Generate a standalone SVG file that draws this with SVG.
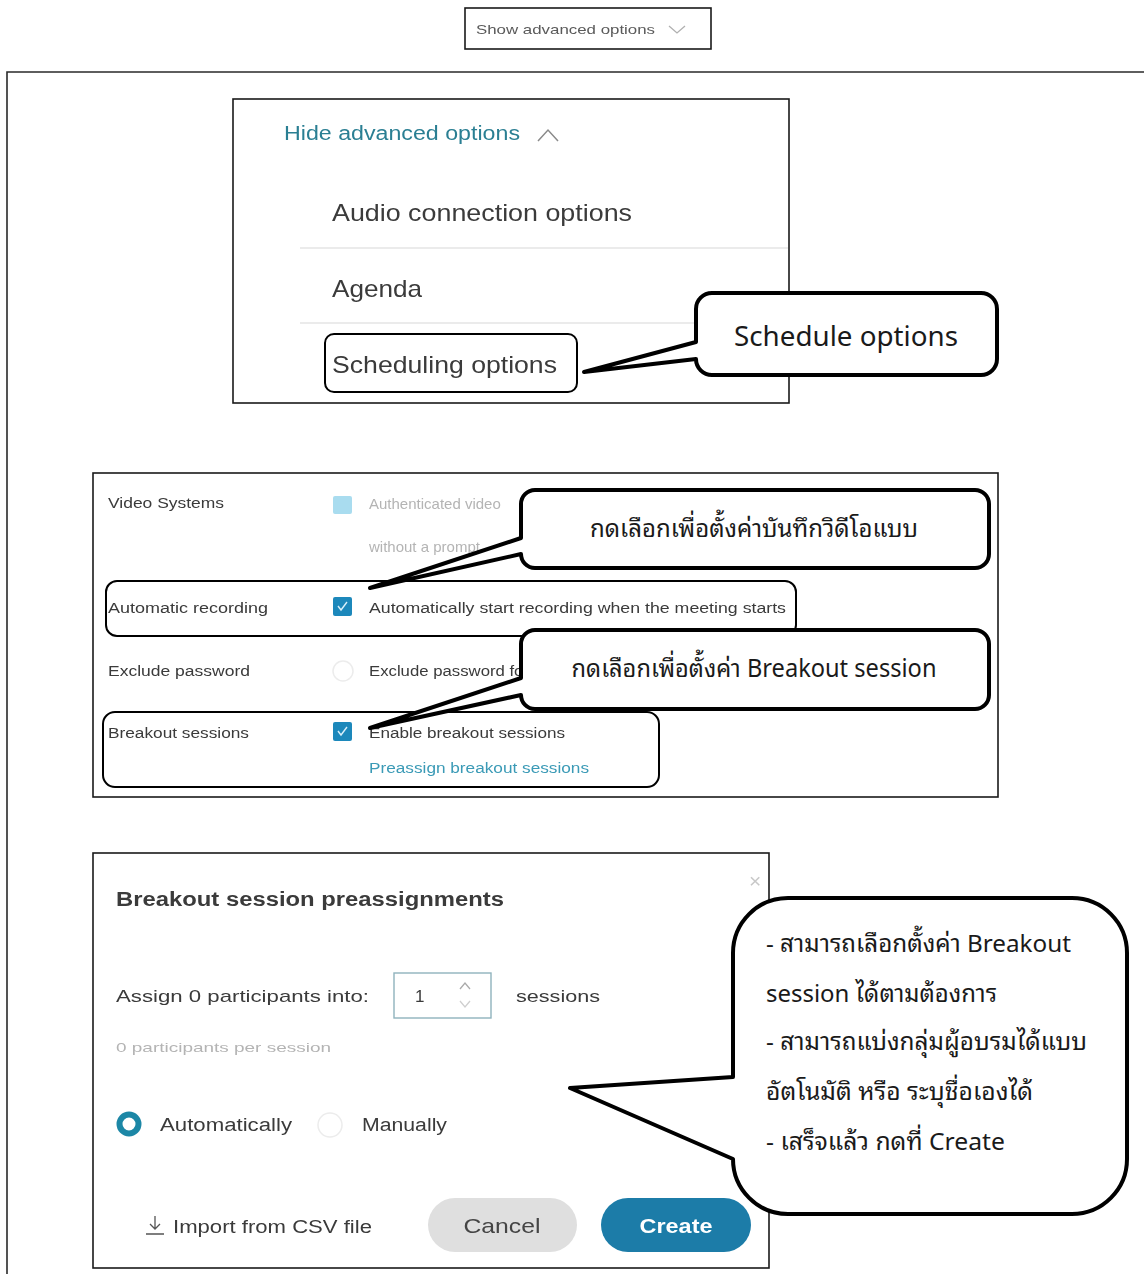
<svg xmlns="http://www.w3.org/2000/svg" width="1144" height="1274" viewBox="0 0 1144 1274">
  <defs>
    <style>
      .ui { font-family: "Liberation Sans", Arial, "DejaVu Sans", sans-serif; fill: #3a3a3a; }
      .faint { fill: #b4b4b4; }
      .teal { fill: #2b7f93; }
      .frame { fill: #ffffff; stroke: #1a1a1a; stroke-width: 1.6; }
      .hl { fill: none; stroke: #000000; stroke-width: 2; }
      .callout { fill: #ffffff; stroke: #000000; stroke-width: 4; stroke-linejoin: round; }
      .th { font-family: "Leelawadee UI", "Noto Sans Thai Looped", "Loma", "Garuda", "Tahoma", "Noto Sans Thai", "Noto Sans", "DejaVu Sans", sans-serif; fill: #1a1a1a; }
      .sep { stroke: #e4e4e4; stroke-width: 1.5; }
      .chk { fill: #1f88bb; }
    </style>
    <filter id="soft" x="-5%" y="-20%" width="110%" height="140%">
      <feGaussianBlur stdDeviation="0.55"/>
    </filter>
  </defs>

  <rect width="1144" height="1274" fill="#ffffff"/>

  <!-- page border (top and left only) -->
  <path d="M7 1274 V72 H1144" fill="none" stroke="#2a2a2a" stroke-width="1.6"/>

  <!-- "Show advanced options" button -->
  <g id="show-advanced">
    <rect x="465" y="8" width="246" height="41" class="frame"/>
    <g filter="url(#soft)">
      <text x="476" y="34" class="ui" font-size="13" textLength="179" lengthAdjust="spacingAndGlyphs" style="fill:#5a5a5a">Show advanced options</text>
      <polyline points="669,26 677,33 685,26" fill="none" stroke="#b0b0b0" stroke-width="1.3"/>
    </g>
  </g>

  <!-- advanced options menu -->
  <g id="options-menu">
    <rect x="233" y="99" width="556" height="304" class="frame"/>
    <g filter="url(#soft)">
      <text x="284" y="140" class="ui teal" font-size="20" textLength="236" lengthAdjust="spacingAndGlyphs">Hide advanced options</text>
      <polyline points="538,141 548,130 558,141" fill="none" stroke="#8a8a8a" stroke-width="1.5"/>
      <text x="332" y="221" class="ui" font-size="24" textLength="300" lengthAdjust="spacingAndGlyphs">Audio connection options</text>
      <line x1="300" y1="248" x2="788" y2="248" class="sep"/>
      <text x="332" y="297" class="ui" font-size="24" textLength="90" lengthAdjust="spacingAndGlyphs">Agenda</text>
      <line x1="300" y1="323" x2="788" y2="323" class="sep"/>
      <text x="332" y="373" class="ui" font-size="24" textLength="225" lengthAdjust="spacingAndGlyphs">Scheduling options</text>
    </g>
    <rect id="scheduling-highlight" x="325" y="334" width="252" height="58" rx="9" class="hl"/>
  </g>

  <!-- meeting settings rows -->
  <g id="settings-panel">
    <rect x="93" y="473" width="905" height="324" class="frame"/>
    <g filter="url(#soft)">
      <text x="108" y="508" class="ui" font-size="14" textLength="116" lengthAdjust="spacingAndGlyphs">Video Systems</text>
      <rect x="333" y="496" width="19" height="18" rx="2" fill="#a9dcef"/>
      <text x="369" y="509" class="ui faint" font-size="15">Authenticated video</text>
      <text x="369" y="552" class="ui faint" font-size="15">without a prompt</text>

      <text x="108" y="613" class="ui" font-size="14" textLength="160" lengthAdjust="spacingAndGlyphs">Automatic recording</text>
      <rect x="333" y="597" width="19" height="19" rx="2" class="chk"/>
      <polyline points="338,606 341,610 347,602" fill="none" stroke="#d8f0fa" stroke-width="1.4"/>
      <text x="369" y="613" class="ui" font-size="14" textLength="417" lengthAdjust="spacingAndGlyphs">Automatically start recording when the meeting starts</text>

      <text x="108" y="676" class="ui" font-size="14" textLength="142" lengthAdjust="spacingAndGlyphs">Exclude password</text>
      <circle cx="343" cy="671" r="10" fill="none" stroke="#ececec" stroke-width="1.5"/>
      <text x="369" y="676" class="ui" font-size="14" textLength="160" lengthAdjust="spacingAndGlyphs">Exclude password for</text>

      <text x="108" y="738" class="ui" font-size="14" textLength="141" lengthAdjust="spacingAndGlyphs">Breakout sessions</text>
      <rect x="333" y="722" width="19" height="19" rx="2" class="chk"/>
      <polyline points="338,731 341,735 347,727" fill="none" stroke="#d8f0fa" stroke-width="1.4"/>
      <text x="369" y="738" class="ui" font-size="14" textLength="196" lengthAdjust="spacingAndGlyphs">Enable breakout sessions</text>
      <text x="369" y="773" class="ui" font-size="14" textLength="220" lengthAdjust="spacingAndGlyphs" style="fill:#3a9ab6">Preassign breakout sessions</text>
    </g>
    <rect id="recording-highlight" x="106" y="581" width="690" height="55" rx="11" class="hl"/>
    <rect id="breakout-highlight" x="103" y="712" width="556" height="75" rx="12" class="hl"/>
  </g>

  <!-- breakout preassignment dialog -->
  <g id="preassign-dialog">
    <rect x="93" y="853" width="676" height="415" class="frame"/>
    <g filter="url(#soft)">
      <text x="749" y="888" class="ui" font-size="21" style="fill:#c8c8c8">×</text>
      <text x="116" y="906" class="ui" font-size="20" font-weight="bold" textLength="388" lengthAdjust="spacingAndGlyphs">Breakout session preassignments</text>
      <text x="116" y="1002" class="ui" font-size="17" textLength="253" lengthAdjust="spacingAndGlyphs">Assign 0 participants into:</text>
      <rect x="394" y="973" width="97" height="45" fill="#ffffff" stroke="#8fb3bd" stroke-width="1.4"/>
      <text x="415" y="1002" class="ui" font-size="17">1</text>
      <polyline points="460,989 465,983 470,989" fill="none" stroke="#aaaaaa" stroke-width="1.3"/>
      <polyline points="460,1001 465,1007 470,1001" fill="none" stroke="#cfcfcf" stroke-width="1.3"/>
      <text x="516" y="1002" class="ui" font-size="17" textLength="84" lengthAdjust="spacingAndGlyphs">sessions</text>
      <text x="116" y="1052" class="ui faint" font-size="13" textLength="215" lengthAdjust="spacingAndGlyphs">0 participants per session</text>

      <circle cx="129" cy="1124" r="9.5" fill="#ffffff" stroke="#1d87a6" stroke-width="6"/>
      <text x="160" y="1131" class="ui" font-size="18" textLength="132" lengthAdjust="spacingAndGlyphs">Automatically</text>
      <circle cx="330" cy="1125" r="12" fill="#ffffff" stroke="#ececec" stroke-width="1.5"/>
      <text x="362" y="1131" class="ui" font-size="18" textLength="85" lengthAdjust="spacingAndGlyphs">Manually</text>

      <path d="M155 1216 V1229 M150 1224 L155 1229 L160 1224 M146 1234 H164" fill="none" stroke="#555555" stroke-width="1.3"/>
      <text x="173" y="1233" class="ui" font-size="18" textLength="199" lengthAdjust="spacingAndGlyphs">Import from CSV file</text>

      <rect x="428" y="1198" width="149" height="54" rx="27" fill="#dfdfdf"/>
      <text x="502" y="1233" class="ui" font-size="21" text-anchor="middle" textLength="77" lengthAdjust="spacingAndGlyphs" style="fill:#444444">Cancel</text>
      <rect x="601" y="1198" width="150" height="54" rx="27" fill="#1b7ca8"/>
      <text x="676" y="1233" class="ui" font-size="21" font-weight="bold" text-anchor="middle" textLength="73" lengthAdjust="spacingAndGlyphs" style="fill:#ffffff">Create</text>
    </g>
  </g>

  <!-- speech-bubble callouts (pointer tails are part of each outline) -->
  <g id="connectors">
    <g id="callout-schedule">
      <path class="callout" d="M712 293 H981 A16 16 0 0 1 997 309 V359 A16 16 0 0 1 981 375 H712 A16 16 0 0 1 696 359 L584 372 L696 342 V309 A16 16 0 0 1 712 293 Z"/>
      <text x="846" y="346" class="th" font-size="28" text-anchor="middle" textLength="224" lengthAdjust="spacingAndGlyphs">Schedule options</text>
    </g>
    <g id="callout-recording">
      <path class="callout" d="M535 490 H975 A14 14 0 0 1 989 504 V554 A14 14 0 0 1 975 568 H535 A14 14 0 0 1 521 554 L370 588 L521 538 V504 A14 14 0 0 1 535 490 Z"/>
      <text x="754" y="537" class="th" font-size="25" text-anchor="middle" textLength="328" lengthAdjust="spacingAndGlyphs">กดเลือกเพื่อตั้งค่าบันทึกวิดีโอแบบ</text>
    </g>
    <g id="callout-breakout">
      <path class="callout" d="M535 630 H975 A14 14 0 0 1 989 644 V695 A14 14 0 0 1 975 709 H535 A14 14 0 0 1 521 695 L370 728 L521 678 V644 A14 14 0 0 1 535 630 Z"/>
      <text x="754" y="677" class="th" font-size="25" text-anchor="middle" textLength="365" lengthAdjust="spacingAndGlyphs">กดเลือกเพื่อตั้งค่า Breakout session</text>
    </g>
    <g id="callout-dialog">
      <path class="callout" d="M788 898 H1072 A55 55 0 0 1 1127 953 V1159 A55 55 0 0 1 1072 1214 H788 A55 55 0 0 1 733 1159 L570 1088 L733 1077 V953 A55 55 0 0 1 788 898 Z"/>
      <text class="th" font-size="24">
        <tspan x="766" y="952" textLength="305" lengthAdjust="spacingAndGlyphs">- สามารถเลือกตั้งค่า Breakout</tspan>
        <tspan x="766" y="1002" textLength="231" lengthAdjust="spacingAndGlyphs">session ได้ตามต้องการ</tspan>
        <tspan x="766" y="1050" textLength="321" lengthAdjust="spacingAndGlyphs">- สามารถแบ่งกลุ่มผู้อบรมได้แบบ</tspan>
        <tspan x="766" y="1100" textLength="267" lengthAdjust="spacingAndGlyphs">อัตโนมัติ หรือ ระบุชื่อเองได้</tspan>
        <tspan x="766" y="1150" textLength="239" lengthAdjust="spacingAndGlyphs">- เสร็จแล้ว กดที่ Create</tspan>
      </text>
    </g>
  </g>
</svg>
